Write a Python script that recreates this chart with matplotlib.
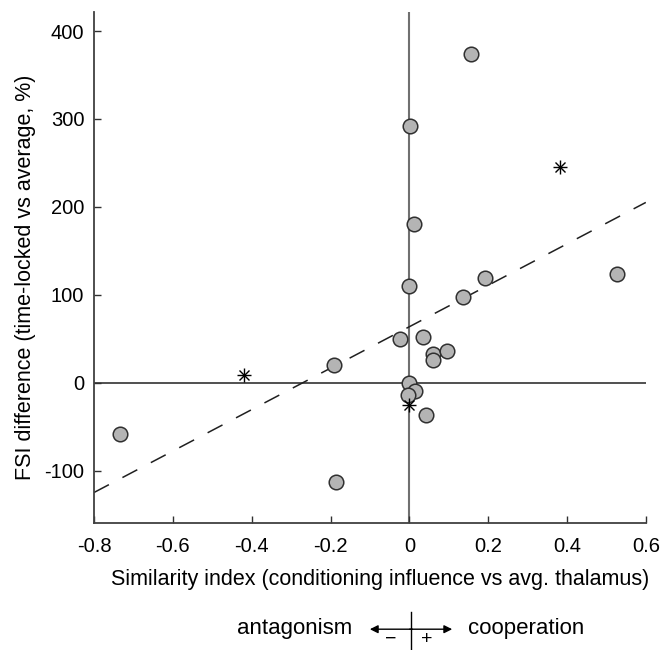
import matplotlib
matplotlib.use("Agg")
import matplotlib.pyplot as plt
from matplotlib.lines import Line2D

plt.rcParams['font.family'] = ['Liberation Sans', 'DejaVu Sans']
plt.rcParams['axes.unicode_minus'] = False

# circles: similarity index vs FSI difference
circ_x = [0.157, 0.002, 0.012, 0.000, 0.526, 0.192, 0.135, -0.023, 0.034,
          0.059, 0.059, 0.095, -0.190, 0.000, 0.014, -0.003, 0.043, -0.733, -0.187]
circ_y = [374, 292, 181, 110, 124, 119, 97, 50, 52,
          33, 26, 36, 20, 0, -10, -14, -37, -58, -113]

# asterisks
star_x = [0.382, -0.419, 0.000]
star_y = [245, 9, -25]

# regression line end points
fit_x = [-0.8, 0.6]
fit_y = [-125, 205]

xticks = [-0.8, -0.6, -0.4, -0.2, 0, 0.2, 0.4, 0.6]
xticklabels = ['-0.8', '-0.6', '-0.4', '-0.2', '0', '0.2', '0.4', '0.6']
yticks = [-100, 0, 100, 200, 300, 400]

fig = plt.figure(figsize=(6.64, 6.5), dpi=100)
ax = fig.add_axes([0.1416, 0.195, 0.831, 0.787])

ax.axvline(0, color='#707070', lw=1.5, zorder=1)
ax.axhline(0, color='#202020', lw=1.1, zorder=1)
ax.plot(fit_x, fit_y, color='#202020', lw=1.1, dashes=(11, 10), zorder=2)
ax.scatter(circ_x, circ_y, s=110, facecolor='#b4b4b4', edgecolor='#303030',
           linewidths=1.1, zorder=3)
ax.plot(star_x, star_y, ls='none', marker='+', ms=10, mew=1.0, color='black', zorder=4)
ax.plot(star_x, star_y, ls='none', marker='x', ms=7.5, mew=1.0, color='black', zorder=4)

ax.set_xlim(-0.8, 0.6)
ax.set_ylim(-160, 422)
ax.set_xticks(xticks)
ax.set_xticklabels(xticklabels)
ax.set_yticks(yticks)
ax.tick_params(direction='in', length=5, width=1, colors='#303030',
               labelsize=14.5, labelcolor='black')
ax.tick_params(axis='x', pad=10)
ax.tick_params(axis='y', pad=7)
for s in ['top', 'right']:
    ax.spines[s].set_visible(False)
for s in ['left', 'bottom']:
    ax.spines[s].set_color('#404040')
    ax.spines[s].set_linewidth(1.3)

ax.set_xlabel('Similarity index (conditioning influence vs avg. thalamus)',
              fontsize=15.5, labelpad=9, x=0.518)
ax.set_ylabel('FSI difference (time-locked vs average, %)', fontsize=15.5,
              labelpad=6, y=0.48)

# antagonism / cooperation key
fig.text(0.530, 0.025, 'antagonism', ha='right', va='baseline', fontsize=16)
fig.text(0.705, 0.025, 'cooperation', ha='left', va='baseline', fontsize=16)
ax.annotate('', xy=(0.557, 0.032), xytext=(0.621, 0.032), xycoords='figure fraction',
            arrowprops=dict(arrowstyle='-|>', color='black', lw=1, mutation_scale=12,
                            shrinkA=0, shrinkB=0))
ax.annotate('', xy=(0.681, 0.032), xytext=(0.617, 0.032), xycoords='figure fraction',
            arrowprops=dict(arrowstyle='-|>', color='black', lw=1, mutation_scale=12,
                            shrinkA=0, shrinkB=0))
fig.add_artist(Line2D([0.619, 0.619], [0.0, 0.0585], color='black', lw=1,
                      transform=fig.transFigure))
fig.text(0.588, 0.003, '\u2212', ha='center', va='bottom', fontsize=14)
fig.text(0.643, 0.003, '+', ha='center', va='bottom', fontsize=14)

fig.savefig('out.png', dpi=100)
